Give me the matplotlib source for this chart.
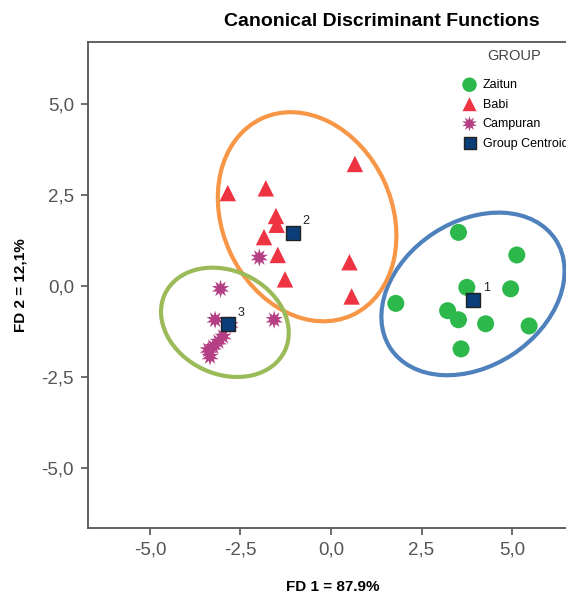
import numpy as np
import matplotlib
matplotlib.use("Agg")
import matplotlib.pyplot as plt
from matplotlib.patches import Ellipse
from matplotlib.ticker import FuncFormatter

plt.rcParams['font.family'] = ['Liberation Sans', 'DejaVu Sans']

# discriminant scores
zaitun_x = [3.52, 5.13, 3.75, 4.96, 1.79, 3.22, 3.52, 4.27, 5.47, 3.59]
zaitun_y = [1.47, 0.85, -0.04, -0.08, -0.48, -0.68, -0.93, -1.04, -1.10, -1.73]

babi_x = [0.66, -2.85, -1.80, -1.52, -1.50, -1.85, -1.47, 0.51, -1.27, 0.57]
babi_y = [3.35, 2.55, 2.68, 1.92, 1.68, 1.34, 0.85, 0.65, 0.18, -0.29]

campuran_x = [-1.98, -3.05, -1.57, -3.20, -2.79, -2.98, -3.11, -3.25, -3.39, -3.34]
campuran_y = [0.78, -0.08, -0.93, -0.93, -1.07, -1.39, -1.53, -1.67, -1.76, -1.94]

centroid_x = [3.93, -1.06, -2.84]
centroid_y = [-0.38, 1.46, -1.05]
centroid_lab = ["1", "2", "3"]

# hand drawn group ellipses: center, width, height, angle
ell_center = [(3.92, -0.22), (-0.66, 1.90), (-2.93, -1.00)]
ell_w = [5.45, 5.95, 3.66]
ell_h = [3.98, 4.68, 2.84]
ell_ang = [33, 115, 155]
ell_col = ["#4F81BD", "#F79646", "#9BBB59"]

ticks = [-5.0, -2.5, 0.0, 2.5, 5.0]

fig = plt.figure(figsize=(5.66, 5.95), dpi=100)
ax = fig.add_axes([88/566, 67/595, 490/566, 486/595])

for c, w, h, a, col in zip(ell_center, ell_w, ell_h, ell_ang, ell_col):
    ax.add_patch(Ellipse(c, w, h, angle=a, fill=False, edgecolor=col, lw=3.0, zorder=1))

ax.scatter(zaitun_x, zaitun_y, s=150, marker='o', color='#2DB84B', edgecolors='none',
           label='Zaitun', zorder=3)
ax.scatter(babi_x, babi_y, s=140, marker='^', color='#EE3342', edgecolors='none',
           label='Babi', zorder=3)
ax.scatter(campuran_x, campuran_y, s=170, marker=(10, 1, 0), color='#B53F84',
           edgecolors='none', label='Campuran', zorder=3)
ax.scatter(centroid_x, centroid_y, s=110, marker='s', color='#0B3E78',
           edgecolors='#222222', linewidths=1.0, label='Group Centroid', zorder=4)
for x, y, t in zip(centroid_x, centroid_y, centroid_lab):
    ax.annotate(t, (x, y), xytext=(7, 6), textcoords='offset points', fontsize=9,
                color='#222222')

ax.set_xlim(-6.71, 6.82)
ax.set_ylim(-6.65, 6.70)
ax.set_xticks(ticks)
ax.set_yticks(ticks)
fmt = FuncFormatter(lambda v, p: ("%.1f" % v).replace('.', ','))
ax.xaxis.set_major_formatter(fmt)
ax.yaxis.set_major_formatter(fmt)
ax.tick_params(direction='out', length=5, width=1.2, color='#555555',
               labelsize=13.5, labelcolor='#555555', pad=5)
for s in ax.spines.values():
    s.set_color('#555555')
    s.set_linewidth(1.3)

ax.set_xlabel('FD 1 = 87.9%', fontsize=11, fontweight='bold', labelpad=15)
ax.set_ylabel('FD 2 = 12,1%', fontsize=11, fontweight='bold', labelpad=10)

fig.text(382/566, 1 - 22/595, 'Canonical Discriminant Functions', ha='center', va='center',
         fontsize=14, fontweight='bold')

# legend title drawn separately so the gap below it matches
fig.text(514/566, 1 - 56/595, 'GROUP', ha='center', va='center', fontsize=10.5,
         color='#444444')
leg = ax.legend(loc='upper left', bbox_to_anchor=(452/566, 1 - 74/595),
                bbox_transform=fig.transFigure, frameon=False,
                fontsize=9, handletextpad=0.05, labelspacing=0.6,
                borderaxespad=0, markerscale=0.85)

fig.savefig('out.png', dpi=100)
